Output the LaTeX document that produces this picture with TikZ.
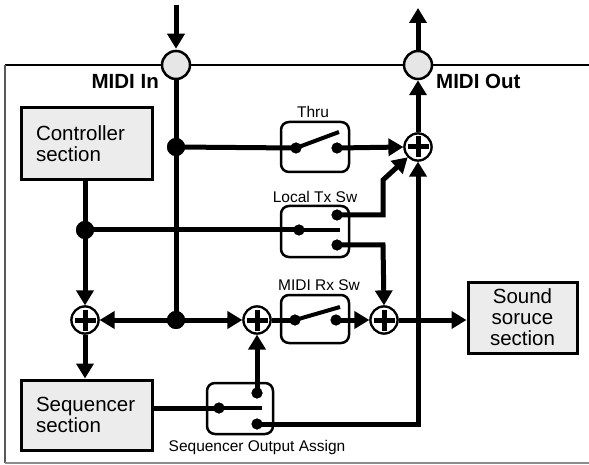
\documentclass[tikz,border=0pt]{standalone}
\usepackage{fontspec}
\setmainfont{Liberation Sans}
\usetikzlibrary{arrows.meta,calc}
\definecolor{boxgray}{HTML}{ECECEC}
\definecolor{portgray}{HTML}{E6E6E6}
\tikzset{
  wire/.style={line width=5pt},
  arr/.style={wire,-{Triangle[length=15pt,width=17pt]}},
  bigbox/.style={draw,line width=3pt,fill=boxgray,font=\fontsize{20.5}{21}\selectfont,inner sep=0pt},
  swbox/.style={draw,line width=2.5pt,rounded corners=8pt,fill=none},
  port/.style={circle,draw,line width=2.5pt,fill=portgray,minimum size=28pt,inner sep=0pt},
  plus/.style={circle,draw,line width=2.2pt,fill=white,minimum size=27pt,inner sep=0pt},
  jdot/.style={circle,fill=black,minimum size=18pt,inner sep=0pt},
  cdot/.style={circle,fill=black,minimum size=11pt,inner sep=0pt},
  small/.style={font=\fontsize{15.5}{17}\selectfont,inner sep=0pt},
  biglabel/.style={font=\fontsize{20.5}{21}\selectfont\bfseries,inner sep=0pt},
  lever/.style={line width=4pt}
}
\newcommand{\plussign}[1]{%
  \draw[line width=5pt] ($(#1)+(-10.5,0)$) -- ($(#1)+(10.5,0)$);
  \draw[line width=5pt] ($(#1)+(0,-10.5)$) -- ($(#1)+(0,10.5)$);}
\begin{document}
\begin{tikzpicture}[x=1pt,y=-1pt]
\useasboundingbox (0,0) rectangle (589,465);
% frame
\draw[line width=2.5pt] (5,65) -- (589,65);
\draw[line width=2pt,black!65] (5,65) -- (5,463);
\draw[line width=1.5pt,black!45] (5,463) -- (589,463);

% boxes
\node[bigbox,minimum width=131pt,minimum height=72pt,text width=101pt,align=left] (ctrl) at (86.5,144) {Controller\\section};
\node[bigbox,minimum width=131pt,minimum height=70pt,text width=101pt,align=left] (seq) at (86.5,415) {Sequencer\\section};
\node[bigbox,minimum width=109pt,minimum height=71pt,align=center] (snd) at (522.5,317.5) {Sound\\soruce\\section};

% switch boxes
\draw[swbox] (281,122) rectangle (349,172);
\draw[swbox] (281,206) rectangle (349,257);
\draw[swbox] (281,295) rectangle (349,343);
\draw[swbox] (207,383) rectangle (273,434);

% labels
\node[small] (lthru) at (313,112) {Thru};
\node[small] (ltx) at (315,197) {Local Tx Sw};
\node[small] (lrx) at (319,285) {MIDI Rx Sw};
\node[small] (lsoa) at (257,447) {Sequencer Output Assign};
\node[biglabel,anchor=east] (lin) at (159,81) {MIDI In};
\node[biglabel,anchor=west] (lout) at (436,81) {MIDI Out};

% coordinates
\coordinate (top) at (176,5);
\coordinate (outtop) at (418,8);
\coordinate (c1) at (383,215);
\coordinate (c2) at (383,180);
\coordinate (c3) at (383,245);
\coordinate (c4) at (418,424);
\coordinate (tlev) at (339,132);
\coordinate (txlev) at (340,230);
\coordinate (rxlev) at (340,307);
\coordinate (slev) at (262,408);

% ports
\node[port] (min) at (176,65) {};
\node[port] (mout) at (418,65) {};

% plus circles
\node[plus] (p1) at (85,320) {};
\node[plus] (p2) at (257,320) {};
\node[plus] (p3) at (384,320) {};
\node[plus] (p4) at (418,147) {};

% junctions
\node[jdot] (j1) at (176,147) {};
\node[jdot] (j2) at (85,230) {};
\node[jdot] (j3) at (176,320) {};

% contacts
\node[cdot] (tl) at (296,148) {};
\node[cdot] (tr) at (337,148) {};
\node[cdot] (xl) at (299,230) {};
\node[cdot] (xu) at (337,215) {};
\node[cdot] (xd) at (337,245) {};
\node[cdot] (rl) at (295,320) {};
\node[cdot] (rr) at (336,320) {};
\node[cdot] (sl) at (219,408) {};
\node[cdot] (su) at (257,393) {};
\node[cdot] (sd) at (257,424) {};

% levers
\draw[lever] (tl.center) -- (tlev);
\draw[lever] (xl.center) -- (txlev);
\draw[lever] (rl.center) -- (rxlev);
\draw[lever] (sl.center) -- (slev);

% connectors
\draw[arr,shorten >=1pt] (top) -- (min.north);
\draw[wire] (min.south) -- (j3.center);
\draw[wire] (j1.center) -- (tl.center);
\draw[arr] (tr.center) -- (p4.west);
\draw[arr] (p4.north) -- (mout.south);
\draw[arr] (mout.north) -- (outtop);
\draw[wire] (ctrl.south -| j2) -- (j2.center);
\draw[arr] (j2.center) -- (p1.north);
\draw[wire] (j2.center) -- (xl.center);
\draw[arr,line join=miter] (xu.center) -- (c1) -- (c2) -- (p4.south west);
\draw[arr,line join=miter] (xd.center) -- (c3) -- (p3.north);
\draw[arr] (j3.center) -- (p1.east);
\draw[arr] (j3.center) -- (p2.west);
\draw[wire] (p2.east) -- (rl.center);
\draw[arr] (rr.center) -- (p3.west);
\draw[arr] (p3.east) -- (snd.west |- p3);
\draw[arr] (p1.south) -- (seq.north -| p1);
\draw[wire] (sl -| seq.east) -- (sl.center);
\draw[arr] (su.center) -- (p2.south);
\draw[arr,line join=miter] (sd.center) -- (c4) -- (p4.south);

% redraw plus circles on top
\foreach \p in {p1,p2,p3,p4}{
  \node[plus] at (\p) {};
  \plussign{\p}
}
\foreach \c in {tl,tr,xl,xu,xd,rl,rr,sl,su,sd}{ \node[cdot] at (\c) {}; }
\node[jdot] at (j1) {};
\node[jdot] at (j2) {};
\node[jdot] at (j3) {};
\end{tikzpicture}
\end{document}
